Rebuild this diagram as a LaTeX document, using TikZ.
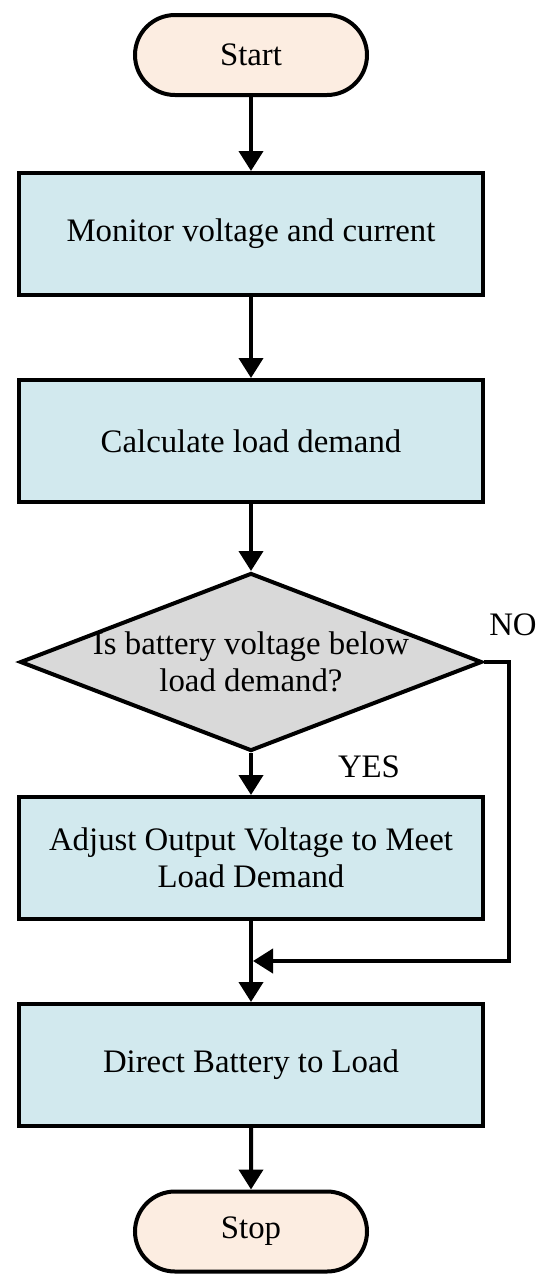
\documentclass[tikz,border=0pt]{standalone}
\usepackage{fontspec}
\setmainfont{Liberation Serif}
\usetikzlibrary{shapes.geometric,shapes.misc,arrows.meta}

\definecolor{termfill}{RGB}{252,237,225}
\definecolor{procfill}{RGB}{210,233,238}
\definecolor{decfill}{RGB}{217,217,217}

\begin{document}
\begin{tikzpicture}[x = 0.5pt, y = -0.5pt,
    every node/.style = {font = \fontsize{16.4}{18.5}\selectfont},
    term/.style = {rounded rectangle, draw, line width = 2pt, fill = termfill,
        minimum width = 116pt, minimum height = 40pt, inner sep = 0pt},
    proc/.style = {rectangle, draw, line width = 2pt, fill = procfill,
        minimum width = 232pt, minimum height = 61pt, align = center, inner sep = 0pt},
    flow/.style = {line width = 2pt, -{Triangle[length = 10pt, width = 12pt]}}]
    % Frame
    \useasboundingbox (0,0) rectangle (550,1287);

    % Start
    \node[term] (start) at (251,55) {Start};

    % Process boxes
    \node[proc] (monitor) at (251,234) {Monitor voltage and current};
    \node[proc] (calc) at (251,441) {Calculate load demand};

    % Decision
    \node[diamond, draw, line width = 2pt, fill = decfill, minimum width = 231pt,
        minimum height = 89pt, inner sep = 0pt] (check) at (251,662) {};
    \node[align = center] (checktext) at (check.center) {Is battery voltage below\\load demand?};

    \node[proc] (adjust) at (251,858) {Adjust Output Voltage to Meet\\Load Demand};
    \node[proc] (direct) at (251,1065) {Direct Battery to Load};

    % Stop
    \node[term] (stop) at (251,1231.5) {Stop};

    % Branch labels
    \node (no) at (513,625) {NO};
    \node (yes) at (369,767) {YES};

    % Merge point of the NO branch
    \coordinate (merge) at (251,961);
    \coordinate (nocorner) at (509,961);

    % Connectors
    \draw[flow] (start) -- (monitor);
    \draw[flow] (monitor) -- (calc);
    \draw[flow] (calc) -- (check);
    \draw[flow] (check) -- (adjust);
    \draw[flow] (adjust) -- (direct);
    \draw[flow, shorten > = 1pt] (check.east) -| (nocorner) -- (merge);
    \draw[flow] (direct) -- (stop);
\end{tikzpicture}
\end{document}
